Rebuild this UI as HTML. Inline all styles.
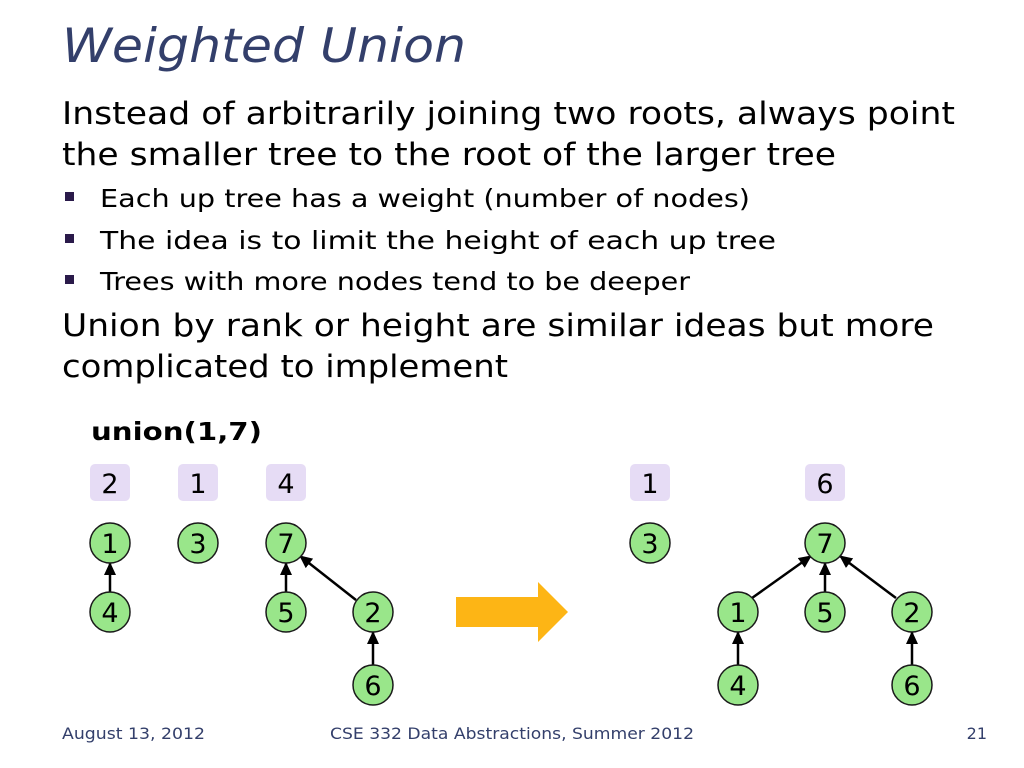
<!DOCTYPE html>
<html><head><meta charset="utf-8"><style>
html,body{margin:0;padding:0;background:#fff;}
svg{display:block;font-family:"DejaVu Sans","Liberation Sans",sans-serif;}
</style></head><body>
<svg width="1024" height="768" viewBox="0 0 1024 768">
<defs><marker id="a" markerWidth="13" markerHeight="12" refX="12" refY="6" orient="auto" markerUnits="userSpaceOnUse"><path d="M0,0 L13,6 L0,12 z" fill="#000"/></marker></defs>
<text x="62" y="62" font-size="47" font-style="italic" fill="#333f6b" textLength="404" lengthAdjust="spacingAndGlyphs">Weighted Union</text>
<g font-size="31" fill="#000">
<text x="62" y="124" textLength="893" lengthAdjust="spacingAndGlyphs">Instead of arbitrarily joining two roots, always point</text>
<text x="62" y="165" textLength="774" lengthAdjust="spacingAndGlyphs">the smaller tree to the root of the larger tree</text>
<text x="62" y="336" textLength="872" lengthAdjust="spacingAndGlyphs">Union by rank or height are similar ideas but more</text>
<text x="62" y="377" textLength="446" lengthAdjust="spacingAndGlyphs">complicated to implement</text>
</g>
<g fill="#2a1a4a"><rect x="65" y="192" width="9" height="9"/><rect x="65" y="234" width="9" height="9"/><rect x="65" y="275" width="9" height="9"/></g>
<g font-size="25" fill="#000">
<text x="100" y="207" textLength="650" lengthAdjust="spacingAndGlyphs">Each up tree has a weight (number of nodes)</text>
<text x="100" y="249" textLength="676" lengthAdjust="spacingAndGlyphs">The idea is to limit the height of each up tree</text>
<text x="100" y="290" textLength="590" lengthAdjust="spacingAndGlyphs">Trees with more nodes tend to be deeper</text>
</g>
<text x="91" y="440" font-size="25" font-weight="bold" textLength="171" lengthAdjust="spacingAndGlyphs">union(1,7)</text>
<g fill="#e6dcf5">
<rect x="90" y="464" width="40" height="37" rx="5"/><rect x="178" y="464" width="40" height="37" rx="5"/><rect x="266" y="464" width="40" height="37" rx="5"/>
<rect x="630" y="464" width="40" height="37" rx="5"/><rect x="805" y="464" width="40" height="37" rx="5"/>
</g>
<g font-size="27" text-anchor="middle" fill="#000">
<text x="110" y="493">2</text><text x="198" y="493">1</text><text x="286" y="493">4</text>
<text x="650" y="493">1</text><text x="825" y="493">6</text>
</g>
<g stroke="#000" stroke-width="2.5" marker-end="url(#a)">
<line x1="110" y1="592" x2="110" y2="563"/>
<line x1="286" y1="592" x2="286" y2="563"/>
<line x1="356" y1="600" x2="300" y2="556"/>
<line x1="373" y1="665" x2="373" y2="632"/>
<line x1="752" y1="598" x2="811" y2="556"/>
<line x1="825" y1="592" x2="825" y2="563"/>
<line x1="896" y1="598" x2="840" y2="556"/>
<line x1="738" y1="665" x2="738" y2="632"/>
<line x1="912" y1="665" x2="912" y2="632"/>
</g>
<g fill="#99e68a" stroke="#1a1a1a" stroke-width="1.5">
<circle cx="110" cy="543" r="20"/><circle cx="110" cy="612" r="20"/><circle cx="198" cy="543" r="20"/>
<circle cx="286" cy="543" r="20"/><circle cx="286" cy="612" r="20"/><circle cx="373" cy="612" r="20"/><circle cx="373" cy="685" r="20"/>
<circle cx="650" cy="543" r="20"/><circle cx="825" cy="543" r="20"/>
<circle cx="738" cy="612" r="20"/><circle cx="825" cy="612" r="20"/><circle cx="912" cy="612" r="20"/>
<circle cx="738" cy="685" r="20"/><circle cx="912" cy="685" r="20"/>
</g>
<g font-size="27" text-anchor="middle" fill="#000">
<text x="110" y="553">1</text><text x="110" y="622">4</text><text x="198" y="553">3</text>
<text x="286" y="553">7</text><text x="286" y="622">5</text><text x="373" y="622">2</text><text x="373" y="695">6</text>
<text x="650" y="553">3</text><text x="825" y="553">7</text>
<text x="738" y="622">1</text><text x="825" y="622">5</text><text x="912" y="622">2</text>
<text x="738" y="695">4</text><text x="912" y="695">6</text>
</g>
<polygon points="456,597 538,597 538,582 568,612 538,642 538,627 456,627" fill="#fdb515"/>
<g font-size="16" fill="#333f6b">
<text x="62" y="739" textLength="143" lengthAdjust="spacingAndGlyphs">August 13, 2012</text>
<text x="330" y="739" textLength="364" lengthAdjust="spacingAndGlyphs">CSE 332 Data Abstractions, Summer 2012</text>
<text x="987" y="739" text-anchor="end">21</text>
</g>
</svg>
</body></html>
